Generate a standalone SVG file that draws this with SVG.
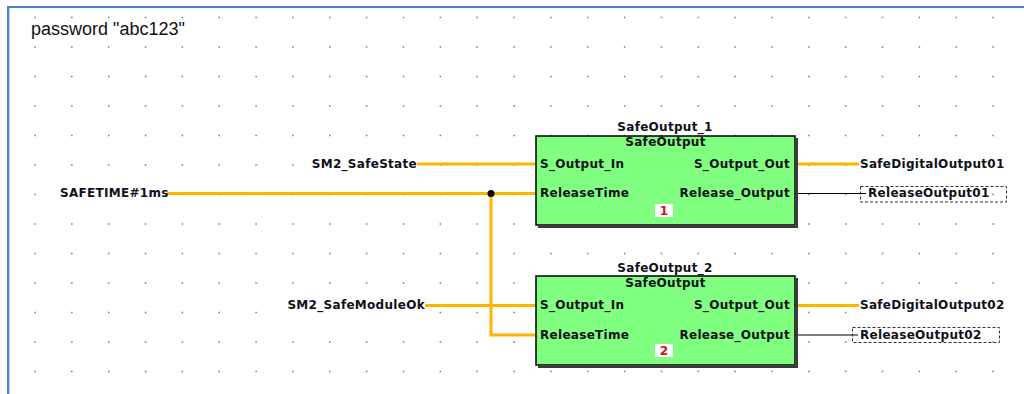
<svg xmlns="http://www.w3.org/2000/svg" width="1024" height="394" viewBox="0 0 1024 394">
  <style>
    .grid { stroke: #7a7a7a; stroke-width: 1.5; stroke-dasharray: 1.5 35.35; }
    .wire { fill: none; stroke: #ffb400; stroke-width: 3; }
    .sig { fill: none; stroke: #000; stroke-width: 1; }
    .lbl { font-family: "DejaVu Sans", Verdana, sans-serif; font-weight: bold; font-size: 12px; fill: #101018; letter-spacing: 0.3px; }
    .bg { fill: #fff; }
    .blk { fill: #80ff80; stroke: #000; stroke-width: 1.5; }
    .shadow { fill: none; stroke: #3a3a3a; stroke-width: 2; }
    .num { font-family: "DejaVu Sans", Verdana, sans-serif; font-weight: bold; font-size: 12px; fill: #d01010; }
    .dash { fill: none; stroke: #333; stroke-width: 1; stroke-dasharray: 3 2; }
  </style>
  <rect x="0" y="0" width="1024" height="394" fill="#fff"/>
  <!-- frame -->
  <rect x="7" y="6" width="1017" height="2" fill="#4f7fc8"/>
  <rect x="7" y="6" width="2" height="388" fill="#4f7fc8"/>
  <rect x="9" y="8" width="1" height="386" fill="#bcd3f0"/>
  <!-- grid -->
  <g id="grid">
    <line class="grid" x1="34.25" y1="17.5" x2="1024" y2="17.5"/>
    <line class="grid" x1="34.25" y1="47" x2="1024" y2="47"/>
    <line class="grid" x1="34.25" y1="76.5" x2="1024" y2="76.5"/>
    <line class="grid" x1="34.25" y1="106" x2="1024" y2="106"/>
    <line class="grid" x1="34.25" y1="135.5" x2="1024" y2="135.5"/>
    <line class="grid" x1="34.25" y1="165" x2="1024" y2="165"/>
    <line class="grid" x1="34.25" y1="194.5" x2="1024" y2="194.5"/>
    <line class="grid" x1="34.25" y1="224" x2="1024" y2="224"/>
    <line class="grid" x1="34.25" y1="253.5" x2="1024" y2="253.5"/>
    <line class="grid" x1="34.25" y1="283" x2="1024" y2="283"/>
    <line class="grid" x1="34.25" y1="312.5" x2="1024" y2="312.5"/>
    <line class="grid" x1="34.25" y1="342" x2="1024" y2="342"/>
    <line class="grid" x1="34.25" y1="371.5" x2="1024" y2="371.5"/>
  </g>
  <text x="31" y="35" font-family="Liberation Sans, Arial, sans-serif" font-size="18" fill="#111">password "abc123"</text>

  <!-- connectors -->
  <g id="connectors">
    <line class="wire" x1="417" y1="164" x2="536" y2="164"/>
    <line class="wire" x1="167" y1="193.5" x2="536" y2="193.5"/>
    <polyline class="wire" points="491,193.5 491,335 536,335"/>
    <line class="wire" x1="425" y1="305.5" x2="536" y2="305.5"/>
    <circle cx="491" cy="193.5" r="3.5" fill="#000"/>
    <line class="wire" x1="795" y1="164" x2="860" y2="164"/>
    <line class="sig" x1="795" y1="193.5" x2="866" y2="193.5"/>
    <line class="wire" x1="795" y1="305.5" x2="860" y2="305.5"/>
    <line class="sig" x1="795" y1="335" x2="860" y2="335"/>
  </g>

  <!-- input labels -->
  <g id="in_safestate">
    <rect class="bg" x="309" y="156" width="108" height="16"/>
    <text class="lbl" x="417" y="167.5" text-anchor="end">SM2_SafeState</text>
  </g>
  <g id="in_safetime">
    <rect class="bg" x="58" y="185" width="109" height="16"/>
    <text class="lbl" x="60" y="197">SAFETIME#1ms</text>
  </g>
  <g id="in_moduleok">
    <rect class="bg" x="285" y="297" width="140" height="18"/>
    <text class="lbl" x="425" y="309" text-anchor="end">SM2_SafeModuleOk</text>
  </g>

  <!-- block 1 -->
  <g id="SafeOutput_1">
    <text class="lbl" x="665" y="131" text-anchor="middle">SafeOutput_1</text>
    <path class="shadow" d="M797,138 V227 H538"/>
    <rect class="blk" x="536" y="136" width="259" height="89"/>
    <text class="lbl" x="665.5" y="146" text-anchor="middle">SafeOutput</text>
    <text class="lbl" x="540" y="167.5">S_Output_In</text>
    <text class="lbl" x="540" y="197">ReleaseTime</text>
    <text class="lbl" x="790" y="167.5" text-anchor="end">S_Output_Out</text>
    <text class="lbl" x="790" y="197" text-anchor="end">Release_Output</text>
    <rect x="655" y="204" width="18" height="13" fill="#fff"/>
    <text class="num" x="664" y="215" text-anchor="middle">1</text>
  </g>

  <!-- block 2 -->
  <g id="SafeOutput_2">
    <text class="lbl" x="665" y="272" text-anchor="middle">SafeOutput_2</text>
    <path class="shadow" d="M797,278 V367 H538"/>
    <rect class="blk" x="536" y="276" width="259" height="89"/>
    <text class="lbl" x="665.5" y="287" text-anchor="middle">SafeOutput</text>
    <text class="lbl" x="540" y="309">S_Output_In</text>
    <text class="lbl" x="540" y="338.5">ReleaseTime</text>
    <text class="lbl" x="790" y="309" text-anchor="end">S_Output_Out</text>
    <text class="lbl" x="790" y="338.5" text-anchor="end">Release_Output</text>
    <rect x="655" y="344" width="18" height="13" fill="#fff"/>
    <text class="num" x="664" y="355" text-anchor="middle">2</text>
  </g>

  <!-- output labels -->
  <g id="out_sdo1">
    <rect class="bg" x="859" y="156" width="143" height="16"/>
    <text class="lbl" x="860" y="167.5">SafeDigitalOutput01</text>
  </g>
  <g id="out_rel1">
    <rect class="bg" x="866" y="186" width="122" height="15"/>
    <rect class="dash" x="860.5" y="186.5" width="146" height="15.5"/>
    <text class="lbl" x="868" y="197">ReleaseOutput01</text>
  </g>
  <g id="out_sdo2">
    <rect class="bg" x="859" y="297" width="143" height="18"/>
    <text class="lbl" x="860" y="309">SafeDigitalOutput02</text>
  </g>
  <g id="out_rel2">
    <rect class="bg" x="858" y="328" width="124" height="14"/>
    <rect class="dash" x="852.5" y="327.5" width="147" height="15"/>
    <text class="lbl" x="860" y="338.5">ReleaseOutput02</text>
  </g>
</svg>
